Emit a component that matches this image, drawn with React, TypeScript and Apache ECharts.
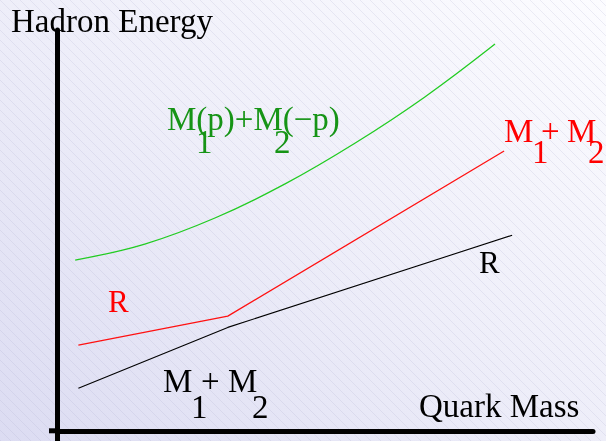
import React, { useEffect, useRef } from "react";
import * as echarts from "echarts";

// Quark mass (x, arbitrary units 0..10) and hadron energy (y, arbitrary units 0..10)
const greenX = [0.33, 1.63, 2.94, 4.25, 5.56, 6.86, 8.17];
const greenY = [4.26, 4.66, 5.31, 6.16, 7.18, 8.33, 9.65];
const redX = [0.39, 3.18, 8.34];
const redY = [2.14, 2.86, 6.98];
const blackX = [0.39, 3.18, 8.49];
const blackY = [1.06, 2.58, 4.88];

const yTitle = "Hadron Energy";
const xTitle = "Quark Mass";
const greenLabel = "M(p)+M(\u2212p)";
const mLetter = "M";
const plus = "+";
const rLabel = "R";
const sub1 = "1";
const sub2 = "2";

const zip = (xs: number[], ys: number[]) => xs.map((x, i) => [x, ys[i]]);

const FONT = '"Liberation Serif", "Times New Roman", serif';

function txt(text: string, x: number, baseline: number, fill: string, size = 33) {
  return {
    type: "text",
    silent: true,
    z: 10,
    style: {
      text,
      x,
      y: baseline - size * 0.34,
      fill,
      fontSize: size,
      fontFamily: FONT,
      align: "left",
      verticalAlign: "middle",
    },
  };
}

function stripes() {
  const out: any[] = [];
  for (let k = -46; k <= 62; k++) {
    const x1 = k * 10;
    out.push({
      type: "line",
      silent: true,
      z: -99,
      shape: { x1, y1: 0, x2: x1 + 441, y2: 441 },
      style: { stroke: "rgba(160,160,200,0.18)", lineWidth: 1 },
    });
  }
  return out;
}

export default function App() {
  const ref = useRef<HTMLDivElement>(null);
  useEffect(() => {
    if (!ref.current) return;
    const chart = echarts.init(ref.current, undefined, { renderer: "svg" });
    const GREEN_T = "#169416";
    const RED_T = "#ff0000";
    chart.setOption({
      animation: false,
      grid: { left: 57.5, right: 13, top: 30, bottom: 10.2 },
      xAxis: {
        type: "value",
        min: 0,
        max: 10,
        axisLine: { show: true, lineStyle: { color: "#000", width: 5 } },
        axisTick: { show: false },
        axisLabel: { show: false },
        splitLine: { show: false },
      },
      yAxis: {
        type: "value",
        min: 0,
        max: 10,
        axisLine: { show: true, lineStyle: { color: "#000", width: 5 } },
        axisTick: { show: false },
        axisLabel: { show: false },
        splitLine: { show: false },
      },
      series: [
        {
          type: "line",
          data: zip(greenX, greenY),
          smooth: 0.4,
          showSymbol: false,
          lineStyle: { color: "#22cc22", width: 1.3 },
        },
        {
          type: "line",
          data: zip(redX, redY),
          showSymbol: false,
          lineStyle: { color: "#ff1111", width: 1.3 },
        },
        {
          type: "line",
          data: zip(blackX, blackY),
          showSymbol: false,
          lineStyle: { color: "#000000", width: 1.1 },
        },
      ],
      graphic: [
        {
          type: "rect",
          silent: true,
          z: -100,
          shape: { x: 0, y: 0, width: 606, height: 441 },
          style: {
            fill: new echarts.graphic.LinearGradient(0, 1, 1, 0, [
              { offset: 0, color: "#dcdcf2" },
              { offset: 0.5, color: "#eeeef9" },
              { offset: 1, color: "#fcfcff" },
            ]),
          },
        },
        ...stripes(),
        {
          type: "line",
          silent: true,
          z: 5,
          shape: { x1: 49, y1: 430.8, x2: 60, y2: 430.8 },
          style: { stroke: "#000", lineWidth: 5 },
        },
        {
          type: "line",
          silent: true,
          z: 5,
          shape: { x1: 57.5, y1: 428, x2: 57.5, y2: 441 },
          style: { stroke: "#000", lineWidth: 5 },
        },
        txt(yTitle, 11, 32, "#000"),
        txt(xTitle, 419, 417, "#000"),
        txt(greenLabel, 167, 130, GREEN_T),
        txt(sub1, 196, 153, GREEN_T),
        txt(sub2, 274, 153, GREEN_T),
        txt(mLetter, 504, 142, RED_T),
        txt(plus, 541, 142, RED_T),
        txt(mLetter, 567, 142, RED_T),
        txt(sub1, 532, 163, RED_T),
        txt(sub2, 588, 163, RED_T),
        txt(rLabel, 108, 312, RED_T, 31),
        txt(rLabel, 479, 273, "#000", 31),
        txt(mLetter, 163, 392, "#000"),
        txt(plus, 201, 392, "#000"),
        txt(mLetter, 228, 392, "#000"),
        txt(sub1, 191, 418, "#000"),
        txt(sub2, 252, 418, "#000"),
      ],
    });
    return () => chart.dispose();
  }, []);
  return (
    <div
      ref={ref}
      style={{ position: "fixed", left: 0, top: 0, width: 606, height: 441 }}
    />
  );
}
